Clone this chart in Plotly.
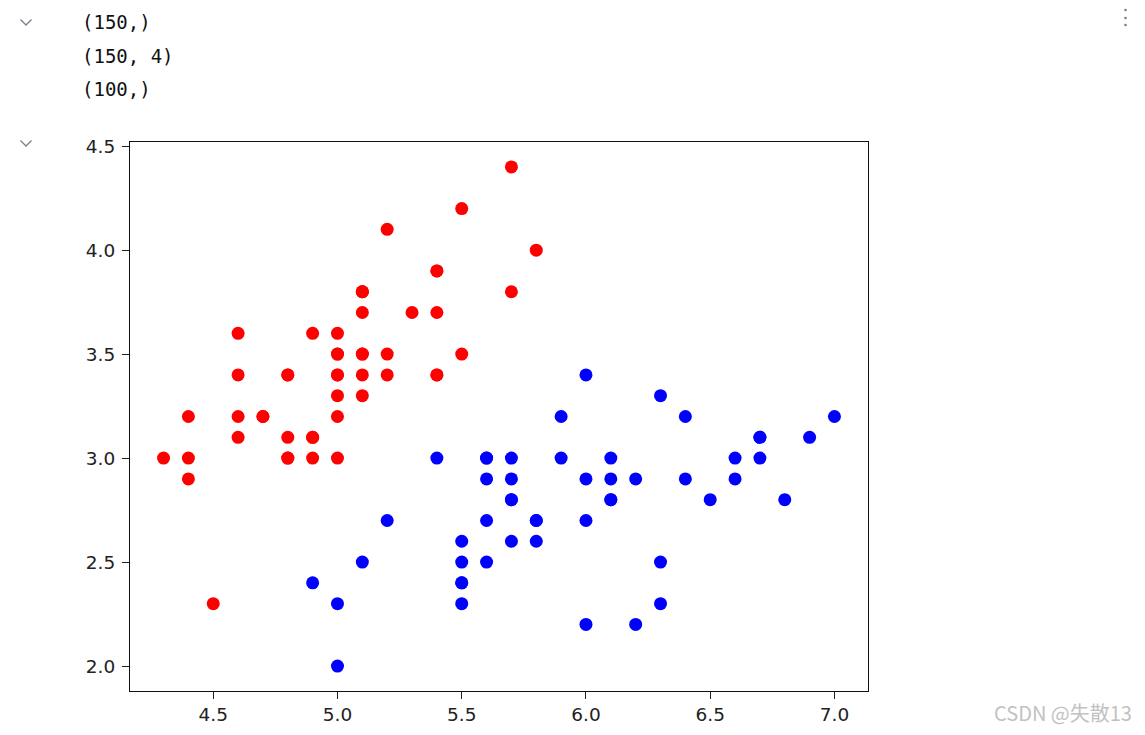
import plotly.graph_objects as go

# Iris data (first 100 samples): sepal length / sepal width
setosa_x = [5.1, 4.9, 4.7, 4.6, 5.0, 5.4, 4.6, 5.0, 4.4, 4.9, 5.4, 4.8, 4.8, 4.3, 5.8, 5.7, 5.4, 5.1, 5.7, 5.1,
            5.4, 5.1, 4.6, 5.1, 4.8, 5.0, 5.0, 5.2, 5.2, 4.7, 4.8, 5.4, 5.2, 5.5, 4.9, 5.0, 5.5, 4.9, 4.4, 5.1,
            5.0, 4.5, 4.4, 5.0, 5.1, 4.8, 5.1, 4.6, 5.3, 5.0]
setosa_y = [3.5, 3.0, 3.2, 3.1, 3.6, 3.9, 3.4, 3.4, 2.9, 3.1, 3.7, 3.4, 3.0, 3.0, 4.0, 4.4, 3.9, 3.5, 3.8, 3.8,
            3.4, 3.7, 3.6, 3.3, 3.4, 3.0, 3.4, 3.5, 3.4, 3.2, 3.1, 3.4, 4.1, 4.2, 3.1, 3.2, 3.5, 3.6, 3.0, 3.4,
            3.5, 2.3, 3.2, 3.5, 3.8, 3.0, 3.8, 3.2, 3.7, 3.3]
versi_x = [7.0, 6.4, 6.9, 5.5, 6.5, 5.7, 6.3, 4.9, 6.6, 5.2, 5.0, 5.9, 6.0, 6.1, 5.6, 6.7, 5.6, 5.8, 6.2, 5.6,
           5.9, 6.1, 6.3, 6.1, 6.4, 6.6, 6.8, 6.7, 6.0, 5.7, 5.5, 5.5, 5.8, 6.0, 5.4, 6.0, 6.7, 6.3, 5.6, 5.5,
           5.5, 6.1, 5.8, 5.0, 5.6, 5.7, 5.7, 6.2, 5.1, 5.7]
versi_y = [3.2, 3.2, 3.1, 2.3, 2.8, 2.8, 3.3, 2.4, 2.9, 2.7, 2.0, 3.0, 2.2, 2.9, 2.9, 3.1, 3.0, 2.7, 2.2, 2.5,
           3.2, 2.8, 2.5, 2.8, 2.9, 3.0, 2.8, 3.0, 2.9, 2.6, 2.4, 2.4, 2.7, 2.7, 3.0, 3.4, 3.1, 2.3, 3.0, 2.5,
           2.6, 3.0, 2.6, 2.3, 2.7, 3.0, 2.9, 2.9, 2.5, 2.8]

x_ticks = [4.5, 5.0, 5.5, 6.0, 6.5, 7.0]
y_ticks = [2.0, 2.5, 3.0, 3.5, 4.0, 4.5]
output_lines = ["(150,)", "(150, 4)", "(100,)"]
watermark = "CSDN @失散13"

OFF = 8  # page body margin
W, H = 1145 - 2 * OFF, 735 - 2 * OFF
# plot area in screen pixels
L, R, T, B = 130, 868, 142, 691


def px(x):
    return (x - L) / (R - L)


def py(y):
    return (B - y) / (B - T)


fig = go.Figure()
fig.add_trace(go.Scatter(x=setosa_x, y=setosa_y, mode="markers",
                         marker=dict(color="red", size=13, line=dict(width=0))))
fig.add_trace(go.Scatter(x=versi_x, y=versi_y, mode="markers",
                         marker=dict(color="blue", size=13, line=dict(width=0))))

axis_common = dict(showgrid=False, zeroline=False, showline=True, linecolor="#111111", linewidth=1.2,
                   mirror=True, ticks="outside", ticklen=7, tickwidth=1.2, tickcolor="#222222",
                   tickfont=dict(family="DejaVu Sans, sans-serif", size=18.5, color="#222222"),
                   tickformat=".1f", automargin=False)
fig.update_xaxes(range=[4.165, 7.135], tickvals=x_ticks, **axis_common)
fig.update_yaxes(range=[1.88, 4.52], tickvals=y_ticks, ticklabelstandoff=3, **axis_common)

annotations = []
for i, t in enumerate(output_lines):
    annotations.append(dict(text=t, x=px(80), y=py(22 + i * 33.5), xref="paper", yref="paper",
                            xanchor="left", yanchor="middle", showarrow=False,
                            font=dict(family="DejaVu Sans Mono, monospace", size=19, color="#111111")))
annotations.append(dict(text=watermark, x=px(1133), y=py(712), xref="paper", yref="paper",
                        xanchor="right", yanchor="middle", showarrow=False, borderpad=0,
                        font=dict(family="Noto Sans CJK SC, sans-serif", size=20, color="#c2c2c2")))

shapes = []
for cy in (22, 143):
    x0, x1, xm = 20.5, 31.5, 26
    y0, y1 = cy - 2.5, cy + 3
    path = f"M {px(x0)},{py(y0)} L {px(xm)},{py(y1)} L {px(x1)},{py(y0)}"
    shapes.append(dict(type="path", path=path, xref="paper", yref="paper",
                       line=dict(color="#7a7e8c", width=1.3)))
for dy in (10, 18, 25):
    shapes.append(dict(type="circle", xref="paper", yref="paper",
                       x0=px(1124.2), x1=px(1126.8), y0=py(dy - 1.3), y1=py(dy + 1.3),
                       fillcolor="#7a7e8c", line=dict(width=0)))

fig.update_layout(width=W, height=H,
                  margin=dict(l=L - OFF, r=W - (R - OFF), t=T - OFF, b=H - (B - OFF), autoexpand=False),
                  paper_bgcolor="white", plot_bgcolor="white", showlegend=False,
                  annotations=annotations, shapes=shapes)

fig.write_html("out.html")
